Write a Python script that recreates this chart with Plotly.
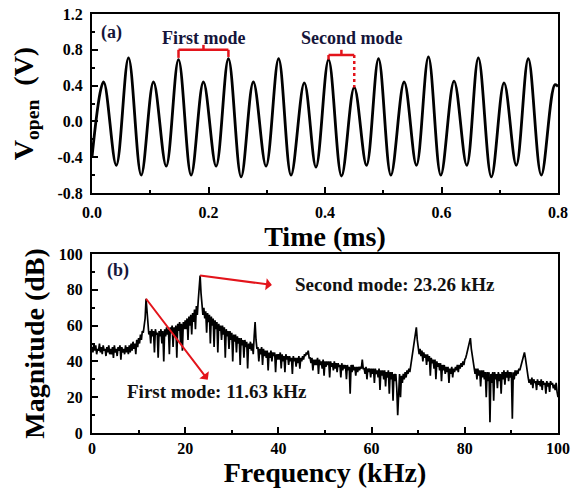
import plotly.graph_objects as go
import numpy as np

FONT = "Liberation Serif"

# ---------- Panel (a): open-circuit voltage vs time (peaks/troughs)
time_ms = [0.0, 0.0199, 0.0417, 0.0627, 0.0845, 0.1056, 0.1274, 0.1485, 0.1702, 0.1913,
           0.2131, 0.2342, 0.2560, 0.2770, 0.2988, 0.3204, 0.3417, 0.3645, 0.3845, 0.4061,
           0.4284, 0.4502, 0.4713, 0.4919, 0.5131, 0.5359, 0.5570, 0.5776, 0.5988, 0.6216,
           0.6434, 0.6633, 0.6856, 0.7074, 0.7284, 0.7490, 0.7713, 0.7946, 0.8]
v_open = [-0.40, 0.44, -0.49, 0.71, -0.60, 0.44, -0.50, 0.69, -0.60, 0.44,
          -0.50, 0.70, -0.62, 0.44, -0.50, 0.70, -0.60, 0.43, -0.51, 0.69,
          -0.61, 0.38, -0.49, 0.70, -0.60, 0.44, -0.49, 0.72, -0.60, 0.45,
          -0.49, 0.71, -0.62, 0.43, -0.49, 0.70, -0.60, 0.41, 0.39]

v_tickvals = [-0.8, -0.4, 0.0, 0.4, 0.8, 1.2]
v_ticktext = ["-0.8", "-0.4", "0.0", "0.4", "0.8", "1.2"]
t_tickvals = [0.0, 0.2, 0.4, 0.6, 0.8]
t_ticktext = ["0.0", "0.2", "0.4", "0.6", "0.8"]

# ---------- Panel (b): FFT magnitude, 0.2 kHz bins from 0 to 100 kHz
freq_step_khz = 0.2
magnitude_db = [
    48, 45, 50, 46, 49, 44, 47, 46, 50, 45, 48, 44, 49, 46, 47, 43, 48, 45, 49, 44,   # 0-4
    47, 44, 48, 42, 49, 45, 47, 43, 48, 46, 49, 41, 48, 45, 47, 44, 49, 45, 48, 44,   # 4-8
    49, 45, 50, 46, 51, 47, 50, 44, 52, 48, 53, 50, 55, 52, 57, 56, 60, 64, 75, 66,   # 8-12
    60, 55, 57, 50, 58, 54, 57, 45, 58, 55, 56, 42, 57, 54, 58, 50, 57, 40, 58, 54,   # 12-16
    59, 55, 58, 44, 59, 56, 60, 48, 59, 54, 60, 42, 61, 57, 62, 50, 61, 46, 62, 58,   # 16-20
    63, 58, 64, 52, 65, 60, 66, 55, 67, 62, 69, 58, 71, 66, 74, 80, 88, 78, 72, 66,   # 20-24
    70, 64, 68, 56, 67, 62, 66, 50, 65, 60, 64, 48, 63, 58, 62, 45, 61, 57, 60, 52,   # 24-28
    60, 55, 59, 42, 58, 54, 57, 47, 57, 52, 56, 40, 55, 51, 55, 45, 54, 50, 53, 38,   # 28-32
    53, 49, 52, 42, 52, 48, 51, 36, 50, 47, 51, 46, 50, 44, 54, 62, 52, 47, 48, 40,   # 32-36
    47, 44, 48, 38, 47, 43, 46, 42, 46, 35, 45, 42, 46, 40, 45, 43, 45, 34, 44, 41,   # 36-40
    44, 41, 45, 36, 44, 40, 43, 34, 44, 41, 43, 38, 43, 40, 42, 33, 43, 40, 42, 37,   # 40-44
    42, 39, 43, 36, 42, 40, 43, 41, 44, 43, 45, 44, 46, 42, 42, 39, 42, 35, 41, 38,   # 44-48
    41, 38, 42, 33, 41, 38, 40, 36, 41, 32, 40, 37, 40, 38, 40, 31, 40, 37, 39, 35,   # 48-52
    40, 36, 39, 34, 39, 37, 38, 31, 39, 35, 38, 36, 38, 30, 38, 35, 37, 22, 38, 34,   # 52-56
    38, 35, 37, 32, 37, 34, 37, 35, 37, 36, 41, 36, 36, 33, 37, 30, 36, 34, 36, 31,   # 56-60
    36, 33, 36, 28, 36, 33, 35, 31, 36, 24, 35, 32, 35, 30, 35, 26, 34, 31, 35, 22,   # 60-64
    34, 30, 34, 18, 33, 29, 33, 25, 10, 27, 33, 20, 32, 28, 33, 30, 34, 31, 35, 33,   # 64-68
    36, 34, 38, 40, 44, 48, 53, 56, 59, 52, 48, 44, 47, 43, 46, 40, 45, 42, 44, 38,   # 68-72
    44, 40, 43, 32, 42, 39, 41, 36, 41, 30, 40, 37, 39, 35, 39, 29, 38, 35, 38, 33,   # 72-76
    37, 34, 37, 28, 36, 33, 37, 31, 36, 34, 37, 35, 38, 34, 38, 36, 39, 37, 40, 38,   # 76-80
    41, 42, 44, 46, 48, 50, 53, 47, 43, 40, 37, 33, 36, 30, 36, 32, 35, 26, 35, 31,   # 80-84
    35, 30, 34, 20, 34, 29, 34, 6, 33, 28, 34, 18, 34, 30, 33, 25, 34, 29, 33, 22,    # 84-88
    34, 30, 35, 27, 34, 31, 35, 29, 34, 31, 34, 8, 34, 30, 35, 32, 35, 33, 36, 35,    # 88-92
    37, 39, 41, 43, 45, 42, 37, 33, 31, 28, 30, 27, 31, 25, 30, 28, 29, 24, 30, 27,   # 92-96
    29, 26, 30, 24, 29, 27, 28, 22, 29, 26, 28, 23, 29, 27, 28, 25, 27, 24, 28, 23,   # 96-100
    20,
]
f_tickvals = [0, 20, 40, 60, 80, 100]
m_tickvals = [0, 20, 40, 60, 80, 100]

mode_labels = ["First mode: 11.63 kHz", "Second mode: 23.26 kHz"]

# peaks of the two modes taken from the data
mag = np.array(magnitude_db, dtype=float)
i1 = int(np.argmax(mag[: int(18 / freq_step_khz)]))
i2 = int(np.argmax(mag[: int(30 / freq_step_khz)]))
f1, m1 = i1 * freq_step_khz, mag[i1]
f2, m2 = i2 * freq_step_khz, mag[i2]

fig = go.Figure()
fig.add_trace(go.Scatter(x=time_ms, y=v_open, mode="lines",
                         line=dict(color="black", width=2.8, shape="spline", smoothing=1.0),
                         xaxis="x", yaxis="y", showlegend=False, hoverinfo="skip"))
fig.add_trace(go.Scatter(x0=0, dx=freq_step_khz, y=magnitude_db, mode="lines",
                         line=dict(color="black", width=1.7),
                         xaxis="x2", yaxis="y2", showlegend=False, hoverinfo="skip"))

tickfont = dict(family=FONT, size=16, color="black", weight="bold")
titlefont = dict(family=FONT, size=28, color="black", weight="bold")


def axis(**kw):
    d = dict(showline=True, linecolor="black", linewidth=2, mirror=True,
             ticks="inside", ticklen=6, tickwidth=1.5, tickcolor="black",
             showgrid=False, zeroline=False, tickfont=tickfont, automargin=False,
             tickmode="array")
    d.update(kw)
    return d


fig.update_layout(
    width=588, height=491,
    margin=dict(l=92, r=30, t=14, b=58),
    paper_bgcolor="white", plot_bgcolor="white",
    xaxis=axis(domain=[0, 1], range=[0, 0.8], anchor="y",
               tickvals=t_tickvals, ticktext=t_ticktext, ticklabelstandoff=4,
               minor=dict(ticks="inside", ticklen=3, tickwidth=1.5, tickcolor="black", dtick=0.1, tick0=0),
               title=dict(text="Time (ms)", font=titlefont, standoff=0)),
    yaxis=axis(domain=[0.5728, 1.0], range=[-0.8, 1.2], anchor="x",
               tickvals=v_tickvals, ticktext=v_ticktext, ticklabelstandoff=4,
               minor=dict(ticks="inside", ticklen=3, tickwidth=1.5, tickcolor="black", dtick=0.2, tick0=-0.8),
               title=dict(text="V<sub>open</sub>  (V)", font=titlefont, standoff=16)),
    xaxis2=axis(domain=[0, 1], range=[0, 100], anchor="y2",
                tickvals=f_tickvals, ticktext=[str(v) for v in f_tickvals], ticklabelstandoff=0,
                minor=dict(ticks="inside", ticklen=3, tickwidth=1.5, tickcolor="black", dtick=10, tick0=0),
                title=dict(text="Frequency (kHz)", font=titlefont, standoff=4)),
    yaxis2=axis(domain=[0, 0.4272], range=[0, 100], anchor="x2",
                tickvals=m_tickvals, ticktext=[str(v) for v in m_tickvals], ticklabelstandoff=4,
                minor=dict(ticks="inside", ticklen=3, tickwidth=1.5, tickcolor="black", dtick=10, tick0=0),
                title=dict(text="Magnitude (dB)", font=titlefont, standoff=6)),
)

RED = "#e3141b"
label_font = dict(family=FONT, size=18, color="#15153a", weight="bold")
ann_font = dict(family=FONT, size=19, color="#111111", weight="bold")

# brackets in panel (a), anchored to the waveform peaks
tA, tB = time_ms[7], time_ms[11]
tC, tD = time_ms[19], time_ms[21]
yb1, yb2 = 0.80, 0.742
shapes = [
    dict(type="line", x0=tA, x1=tB, y0=yb1, y1=yb1),
    dict(type="line", x0=tA, x1=tA, y0=yb1, y1=v_open[7] + 0.02),
    dict(type="line", x0=tB, x1=tB, y0=yb1, y1=v_open[11] + 0.02),
    dict(type="line", x0=(tA + tB) / 2, x1=(tA + tB) / 2, y0=yb1, y1=yb1 + 0.055),
    dict(type="line", x0=tC, x1=tD, y0=yb2, y1=yb2),
    dict(type="line", x0=tC, x1=tC, y0=yb2, y1=v_open[19]),
    dict(type="line", x0=(tC + tD) / 2, x1=(tC + tD) / 2, y0=yb2, y1=yb2 + 0.058),
    dict(type="line", x0=tD, x1=tD, y0=yb2, y1=v_open[21], line_dash="dot"),
]
for s in shapes:
    s.update(xref="x", yref="y", layer="above")
    s["line"] = dict(color=RED, width=2.5, dash=s.pop("line_dash", "solid"))
fig.update_layout(shapes=shapes)

annotations = [
    dict(x=0.033, y=0.99, xref="x", yref="y", text="(a)", showarrow=False, font=label_font),
    dict(x=(tA + tB) / 2, y=0.935, xref="x", yref="y", text="First mode", showarrow=False, font=label_font),
    dict(x=0.447, y=0.935, xref="x", yref="y", text="Second mode", showarrow=False, font=label_font),
    dict(x=5.6, y=91, xref="x2", yref="y2", text="(b)", showarrow=False, font=label_font),
    # mode labels with arrows leaving the spectral peaks (head at the label side)
    dict(x=f2, y=m2, xref="x2", yref="y2", ax=38.6, ay=82.7, axref="x2", ayref="y2",
         text=mode_labels[1], xanchor="left", borderpad=22, font=ann_font,
         showarrow=True, arrowside="start", arrowhead=2, arrowsize=1.3, arrowwidth=2,
         arrowcolor=RED, standoff=0, startstandoff=0),
    dict(x=f1, y=m1, xref="x2", yref="y2", ax=26.8, ay=23.1, axref="x2", ayref="y2",
         text=mode_labels[0], xanchor="center", borderpad=1, font=ann_font,
         showarrow=True, arrowside="start", arrowhead=2, arrowsize=1.3, arrowwidth=2,
         arrowcolor=RED, standoff=0, startstandoff=0),
]
fig.update_layout(annotations=annotations)

fig.write_html("out.html", config={"displayModeBar": False},
               post_script="document.body.style.margin='0';document.body.style.overflow='hidden';")
